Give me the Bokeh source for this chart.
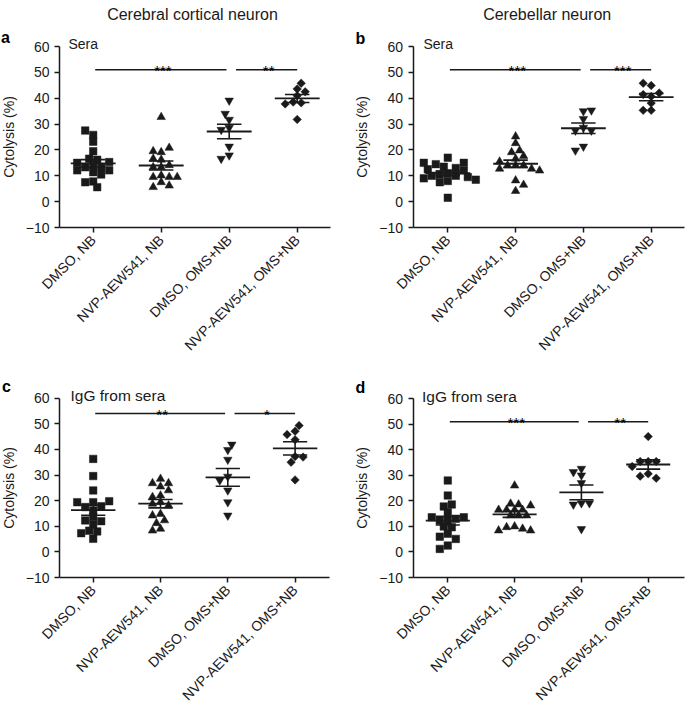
import numpy as np
from math import pi
from bokeh.plotting import figure
from bokeh.models import Range1d, FixedTicker, Label
from bokeh.layouts import row, column
from bokeh.embed import file_html
from bokeh.resources import INLINE

# ---------------- data ----------------
categories = ["DMSO, NB", "NVP-AEW541, NB", "DMSO, OMS+NB", "NVP-AEW541, OMS+NB"]
y_ticks = [-10, 0, 10, 20, 30, 40, 50, 60]
y_tick_labels = ["\u221210", "0", "10", "20", "30", "40", "50", "60"]
column_titles = ["Cerebral cortical neuron", "Cerebellar neuron"]
panel_letters = ["a", "b", "c", "d"]
panel_subtitles = ["Sera", "Sera", "IgG from sera", "IgG from sera"]
y_axis_title = "Cytolysis (%)"

a_dmso_nb = [27.5, 25.8, 23.2, 19.5, 16.6, 16.2, 15.3, 15.0, 14.0, 13.3, 13.3, 12.1, 12.1, 11.4, 10.5, 7.8, 7.5, 5.6]
a_nvp_nb = [32.7, 20.8, 19.5, 19.1, 16.6, 16.2, 14.1, 13.3, 13.3, 10.1, 9.5, 9.5, 9.5, 7.5, 6.2, 5.6]
a_dmso_oms = [39.1, 34.0, 31.7, 28.6, 27.8, 21.3, 17.9, 16.6]
a_nvp_oms = [45.8, 43.6, 42.5, 41.0, 38.5, 38.2, 37.8, 31.8]

b_dmso_nb = [17.0, 15.0, 15.0, 14.5, 13.5, 13.0, 12.5, 12.0, 11.0, 10.5, 10.0, 10.0, 9.5, 9.0, 8.5, 8.0, 7.5, 1.5]
b_nvp_nb = [25.2, 22.6, 19.8, 19.1, 17.6, 16.6, 15.5, 14.0, 14.0, 14.0, 12.7, 12.7, 12.0, 8.2, 6.5, 4.1]
b_dmso_oms = [35.3, 35.0, 32.0, 28.6, 27.5, 27.5, 21.3, 19.8]
b_nvp_oms = [45.8, 44.9, 42.0, 41.4, 40.7, 38.1, 35.3, 35.3]

c_dmso_nb = [36.3, 29.6, 24.0, 19.8, 19.4, 19.4, 17.8, 17.5, 16.2, 13.6, 12.3, 12.0, 10.7, 8.3, 8.0, 7.3, 5.1]
c_nvp_nb = [28.5, 26.8, 26.8, 25.5, 24.0, 22.0, 21.4, 19.4, 18.8, 18.1, 14.8, 14.2, 12.3, 11.2, 9.0, 8.3]
c_dmso_oms = [41.9, 39.8, 36.0, 29.4, 27.9, 24.0, 19.4, 14.2]
c_nvp_oms = [49.3, 47.1, 45.8, 43.8, 37.2, 37.0, 35.0, 28.1]

d_dmso_nb = [28.0, 22.1, 18.6, 17.8, 15.6, 13.6, 13.6, 13.0, 12.3, 12.3, 10.0, 9.7, 7.1, 6.0, 5.1, 2.5, 1.2]
d_nvp_nb = [26.0, 18.9, 18.6, 18.2, 16.5, 16.5, 16.5, 16.5, 14.3, 14.3, 14.3, 10.0, 9.7, 9.1, 8.4, 8.4]
d_dmso_oms = [32.6, 31.3, 30.0, 27.0, 19.1, 19.1, 18.6, 9.0]
d_nvp_oms = [45.2, 35.4, 35.4, 35.4, 33.5, 30.6, 29.7, 28.9]

a_stars = ["***", "**"]
b_stars = ["***", "***"]
c_stars = ["**", "*"]
d_stars = ["***", "**"]
sig_levels = [51.0, 51.0, 54.0, 51.0]

panel_data = [
    [a_dmso_nb, a_nvp_nb, a_dmso_oms, a_nvp_oms],
    [b_dmso_nb, b_nvp_nb, b_dmso_oms, b_nvp_oms],
    [c_dmso_nb, c_nvp_nb, c_dmso_oms, c_nvp_oms],
    [d_dmso_nb, d_nvp_nb, d_dmso_oms, d_nvp_oms],
]
panel_stars = [a_stars, b_stars, c_stars, d_stars]

# ---------------- styling / layout (pixel geometry) ----------------
FONT = "Liberation Sans"
INK = "#1a1a1a"
Y0, Y1 = -10, 60

# canvas origin/size + where the axes sit on the page
specs = [
    dict(ox=0, oy=0, W=342, H=370, axis=59.0, cat0=92.7, step=68.0, end=330.0, top=46.0, bot=227.0, lab=6),
    dict(ox=342, oy=0, W=343, H=370, axis=412.5, cat0=447.3, step=67.8, end=684.0, top=46.0, bot=227.0, lab=7),
    dict(ox=0, oy=370, W=342, H=333, axis=59.0, cat0=92.7, step=67.3, end=328.5, top=397.7, bot=577.0, lab=6),
    dict(ox=342, oy=370, W=343, H=333, axis=412.5, cat0=447.3, step=66.8, end=684.0, top=398.3, bot=577.0, lab=7),
]

title_pos = [(192.0, 13.5), (546.7, 13.5)]
letter_pos = [(0.5, 37.0), (355.0, 37.5), (1.5, 385.5), (355.0, 387.0)]
sub_pos = [(68.0, 43.0), (423.0, 43.0), (70.0, 395.0), (421.5, 395.5)]
sub_size = ["14px", "14px", "15.5px", "15.5px"]


def cx(s, px):
    return (px - s["cat0"]) / s["step"]


def vy(s, py):
    return Y1 - (py - s["top"]) * (Y1 - Y0) / (s["bot"] - s["top"])


def swarm(vals, ppx, ppy, step=4.0, mind=6.6):
    vals = np.asarray(vals, dtype=float)
    med = np.median(vals)
    order = np.argsort(np.abs(vals - med), kind="stable")
    cands = [0.0]
    for k in range(1, 25):
        cands += [k * step, -k * step]
    placed = []
    offs = np.zeros(len(vals))
    for n, i in enumerate(order):
        y = vals[i] * ppy
        chosen = cands[-1]
        seq = cands if n % 2 == 0 else [-c for c in cands]
        for c in seq:
            if all((c - ox) ** 2 + (y - oy) ** 2 >= mind ** 2 for ox, oy in placed):
                chosen = c
                break
        placed.append((chosen, y))
        offs[i] = chosen / ppx
    return offs


marker_style = [
    dict(marker="square", size=7.5, angle=0.0),
    dict(marker="triangle", size=8.5, angle=0.0),
    dict(marker="inverted_triangle", size=8.5, angle=0.0),
    dict(marker="square", size=6.0, angle=pi / 4),
]

figs = []
for k, s in enumerate(specs):
    xr = (cx(s, s["ox"]), cx(s, s["ox"] + s["W"]))
    yr = (vy(s, s["oy"] + s["H"]), vy(s, s["oy"]))
    p = figure(width=s["W"], height=s["H"], output_backend="svg", toolbar_location=None,
               x_range=Range1d(*xr), y_range=Range1d(*yr),
               min_border=0, min_border_left=0, min_border_right=0,
               min_border_top=0, min_border_bottom=0)
    p.outline_line_color = None
    p.xgrid.visible = False
    p.ygrid.visible = False
    p.background_fill_color = "white"
    p.border_fill_color = "white"

    for ax in (p.xaxis[0], p.yaxis[0]):
        ax.axis_line_color = INK
        ax.axis_line_width = 1.5
        ax.major_tick_line_color = INK
        ax.major_tick_line_width = 1.5
        ax.major_tick_out = 5
        ax.major_tick_in = 0
        ax.minor_tick_line_color = None
        ax.major_label_text_font = FONT
        ax.major_label_text_color = INK

    x_axis_start = cx(s, s["axis"])
    x_axis_end = cx(s, s["end"])

    p.xaxis.fixed_location = Y0
    p.xaxis.bounds = (x_axis_start, x_axis_end)
    p.xaxis.ticker = FixedTicker(ticks=list(range(len(categories))))
    p.xaxis.major_label_overrides = {i: c for i, c in enumerate(categories)}
    p.xaxis.major_label_orientation = pi / 4
    p.xaxis.major_label_text_font_size = "14px"
    p.xaxis.major_label_standoff = 5

    p.yaxis.fixed_location = x_axis_start
    p.yaxis.bounds = (Y0, Y1)
    p.yaxis.ticker = FixedTicker(ticks=y_ticks)
    p.yaxis.major_label_overrides = {t: l for t, l in zip(y_ticks, y_tick_labels)}
    p.yaxis.major_label_text_font_size = "14px"
    p.yaxis.major_label_standoff = 5
    p.yaxis.axis_label = y_axis_title
    p.yaxis.axis_label_text_font = FONT
    p.yaxis.axis_label_text_font_size = "14px"
    p.yaxis.axis_label_text_font_style = "normal"
    p.yaxis.axis_label_text_color = INK
    p.yaxis.axis_label_standoff = s["lab"]

    ppx = s["step"]
    ppy = (s["bot"] - s["top"]) / (Y1 - Y0)

    groups = panel_data[k]
    for gi, vals in enumerate(groups):
        offs = swarm(vals, ppx, ppy)
        ms = marker_style[gi]
        p.scatter(x=gi + offs, y=vals, marker=ms["marker"], size=ms["size"], angle=ms["angle"],
                  fill_color=INK, line_color=INK, line_width=0.5)

    # mean +/- SEM
    means = np.array([np.mean(v) for v in groups])
    sems = np.array([np.std(v, ddof=1) / np.sqrt(len(v)) for v in groups])
    gx = np.arange(len(groups), dtype=float)
    p.segment(x0=gx - 0.33, y0=means, x1=gx + 0.33, y1=means, line_color=INK, line_width=1.8)
    p.segment(x0=gx - 0.18, y0=means + sems, x1=gx + 0.18, y1=means + sems, line_color=INK, line_width=1.6)
    p.segment(x0=gx - 0.18, y0=means - sems, x1=gx + 0.18, y1=means - sems, line_color=INK, line_width=1.6)
    p.segment(x0=gx, y0=means - sems, x1=gx, y1=means + sems, line_color=INK, line_width=1.6)

    # significance bars
    lvl = sig_levels[k]
    bars_x0 = [0.03, 2.1]
    bars_x1 = [1.96, 3.0]
    p.segment(x0=bars_x0, y0=[lvl, lvl], x1=bars_x1, y1=[lvl, lvl], line_color=INK, line_width=1.4)
    for bx0, bx1, st in zip(bars_x0, bars_x1, panel_stars[k]):
        p.add_layout(Label(x=(bx0 + bx1) / 2 + 0.03, y=lvl - 0.3, text=st, text_align="center",
                           text_baseline="alphabetic", text_font=FONT, text_font_size="15px",
                           text_color="black"))

    # panel letter and subtitle
    lx, ly = letter_pos[k]
    p.add_layout(Label(x=cx(s, lx), y=vy(s, ly), text=panel_letters[k], text_align="left",
                       text_baseline="alphabetic", text_font=FONT, text_font_size="16px",
                       text_font_style="bold", text_color="black"))
    sx, sy = sub_pos[k]
    p.add_layout(Label(x=cx(s, sx), y=vy(s, sy), text=panel_subtitles[k], text_align="left",
                       text_baseline="alphabetic", text_font=FONT, text_font_size=sub_size[k],
                       text_color=INK))
    if k < 2:
        tx, ty = title_pos[k]
        p.add_layout(Label(x=cx(s, tx), y=vy(s, ty), text=column_titles[k], text_align="center",
                           text_baseline="alphabetic", text_font=FONT, text_font_size="16px",
                           text_color=INK))
    figs.append(p)

layout = column(row(figs[0], figs[1]), row(figs[2], figs[3]))
open("out.html", "w").write(file_html(layout, INLINE))
